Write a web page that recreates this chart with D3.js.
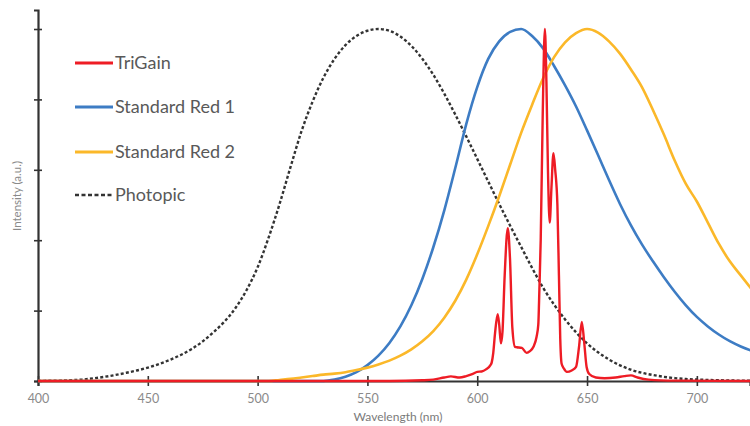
<!DOCTYPE html>
<html><head><meta charset="utf-8">
<script src="https://cdn.jsdelivr.net/npm/d3@7"></script>
<style>
html,body{margin:0;padding:0;background:#fff;overflow:hidden}
svg{display:block}
text{font-family:Lato,"Open Sans",sans-serif}
</style></head>
<body>
<svg id="chart" width="750" height="426"></svg>
<script>
const xTicks = [400, 450, 500, 550, 600, 650, 700];
const yTicks = [0, 0.2, 0.4, 0.6, 0.8, 1.0];
const seriesNames = ["TriGain", "Standard Red 1", "Standard Red 2", "Photopic"];

const photopicWl = [400,405,410,415,420,425,430,435,440,445,450,455,460,465,470,475,480,485,490,495,500,505,510,515,520,525,530,535,540,545,550,555,560,565,570,575,580,585,590,595,600,605,610,615,620,625,630,635,640,645,650,655,660,665,670,675,680,685,690,695,700,705,710,715,720,725];
const photopicVal = [0.0004,0.0006,0.0012,0.0022,0.004,0.0073,0.0116,0.0168,0.023,0.0298,0.038,0.048,0.06,0.0739,0.091,0.1126,0.139,0.1693,0.208,0.2586,0.323,0.4073,0.503,0.6082,0.71,0.7932,0.862,0.9149,0.954,0.9803,0.995,1.0,0.995,0.9786,0.952,0.9154,0.87,0.8163,0.757,0.6949,0.631,0.5668,0.503,0.4412,0.381,0.321,0.265,0.217,0.175,0.1382,0.107,0.0816,0.061,0.0446,0.032,0.0232,0.017,0.0119,0.0082,0.0057,0.0041,0.0029,0.0021,0.0015,0.001,0.0007];

const red1Wl = [400,530,535,540,545,550,555,560,565,570,575,580,585,590,595,600,605,610,615,620,625,630,635,640,645,650,655,660,665,670,675,680,685,690,695,700,705,710,715,720,725];
const red1Val = [0,0,0.004,0.012,0.025,0.045,0.072,0.108,0.155,0.215,0.29,0.38,0.485,0.605,0.73,0.835,0.915,0.965,0.992,1.0,0.98,0.945,0.895,0.84,0.78,0.712,0.642,0.571,0.503,0.442,0.388,0.34,0.295,0.253,0.215,0.182,0.155,0.132,0.113,0.098,0.086];

const red2Wl = [400,505,510,515,520,525,530,535,540,545,550,555,560,565,570,575,580,585,590,595,600,605,610,615,620,625,630,635,640,645,650,655,660,665,670,675,680,685,690,695,700,705,710,715,720,725];
const red2Val = [0,0,0.003,0.006,0.01,0.014,0.018,0.021,0.025,0.031,0.038,0.047,0.058,0.072,0.09,0.113,0.142,0.18,0.228,0.288,0.36,0.44,0.525,0.615,0.705,0.785,0.86,0.92,0.962,0.988,1.0,0.99,0.965,0.93,0.885,0.835,0.77,0.7,0.625,0.56,0.51,0.45,0.39,0.34,0.3,0.26];

const triWl = [400,560,575,580,585,588,592,595,598,600,602,604,606,606.6,607.3,608.1,609.3,610,610.8,611.5,612.5,613.9,614.9,616,617.2,618,620.3,622.5,624,625.6,627,627.8,628.3,628.9,629.8,630.8,631.5,632.2,633,633.8,634.7,635.5,636.5,637.2,637.8,638.4,639.5,640.8,643,645,646.4,647.6,648.7,649.8,651,654,658,663,667,670,673,678,690,725];
const triVal = [0,0,0.002,0.004,0.01,0.013,0.01,0.014,0.02,0.026,0.027,0.033,0.045,0.053,0.08,0.135,0.19,0.16,0.107,0.14,0.3,0.434,0.35,0.15,0.097,0.096,0.094,0.08,0.085,0.097,0.125,0.16,0.26,0.4,0.75,1.0,0.85,0.6,0.45,0.55,0.647,0.6,0.5,0.3,0.12,0.05,0.035,0.026,0.03,0.04,0.1,0.168,0.11,0.04,0.02,0.01,0.008,0.01,0.014,0.016,0.01,0.004,0.001,0];

const colors = {tri:"#ee1c25", red1:"#3d7cc4", red2:"#fbb829", phot:"#333333"};

const svg = d3.select("#chart");
const x = d3.scaleLinear().domain([400, 724.2]).range([38, 750]);
const y = d3.scaleLinear().domain([0, 1.054]).range([381, 10]);

const axisColor = "#333";
// Y axis
const yl = svg.append("g").attr("transform","translate(38,0)")
  .call(d3.axisLeft(y).tickValues(yTicks).tickSize(4).tickFormat(""));
const yr = svg.append("g").attr("transform","translate(38,0)")
  .call(d3.axisRight(y).tickValues(yTicks).tickSize(4).tickFormat(""));
[yl, yr].forEach(g => {
  g.select(".domain").attr("stroke", axisColor).attr("stroke-width", 2.2);
  g.selectAll(".tick line").attr("stroke", axisColor).attr("stroke-width", 1.6);
});
yr.select(".domain").remove();

// X axis
const xb = svg.append("g").attr("transform","translate(0,381)")
  .call(d3.axisBottom(x).tickValues(xTicks).tickSize(5).tickPadding(8).tickFormat(d3.format("d")));
const xt = svg.append("g").attr("transform","translate(0,381)")
  .call(d3.axisTop(x).tickValues(xTicks).tickSize(5).tickFormat(""));
[xb, xt].forEach(g => {
  g.select(".domain").attr("stroke", axisColor).attr("stroke-width", 2.2);
  g.selectAll(".tick line").attr("stroke", axisColor).attr("stroke-width", 1.6);
});
xt.select(".domain").remove();
xb.selectAll(".tick text").attr("fill","#8a8a8a").style("font-size","12.5px").style("font-family","Lato, sans-serif");

// Titles
svg.append("text").attr("x", 398).attr("y", 421).attr("text-anchor","middle")
  .attr("fill","#7a7a7a").style("font-size","12px").text("Wavelength (nm)");
svg.append("text").attr("transform","translate(21,196) rotate(-90)").attr("text-anchor","middle")
  .attr("fill","#8a8a8a").style("font-size","11.5px").text("Intensity (a.u.)");

const line = d3.line().x(d => x(d[0])).y(d => y(d[1])).curve(d3.curveMonotoneX);
const zip = (a, b) => a.map((v, i) => [v, b[i]]);

svg.append("path").datum(zip(photopicWl, photopicVal)).attr("d", line)
  .attr("fill","none").attr("stroke", colors.phot).attr("stroke-width", 2.4).attr("stroke-dasharray","3,2.2");
svg.append("path").datum(zip(red1Wl, red1Val)).attr("d", line)
  .attr("fill","none").attr("stroke", colors.red1).attr("stroke-width", 2.6);
svg.append("path").datum(zip(red2Wl, red2Val)).attr("d", line)
  .attr("fill","none").attr("stroke", colors.red2).attr("stroke-width", 2.6);
svg.append("path").datum(zip(triWl, triVal)).attr("d", line)
  .attr("fill","none").attr("stroke", colors.tri).attr("stroke-width", 2.4).attr("stroke-linejoin","round");

// Legend
const legendY = [63, 107, 152, 195];
const legendColors = [colors.tri, colors.red1, colors.red2, colors.phot];
const lg = svg.append("g");
seriesNames.forEach((name, i) => {
  const ln = lg.append("line").attr("x1", 75).attr("x2", 113).attr("y1", legendY[i]).attr("y2", legendY[i])
    .attr("stroke", legendColors[i]).attr("stroke-width", i === 3 ? 2.4 : 3);
  if (i === 3) ln.attr("stroke-dasharray","4,2.5");
  lg.append("text").attr("x", 115).attr("y", legendY[i]).attr("dy","0.35em")
    .attr("fill","#595959").style("font-size","18px").text(name);
});
</script>
</body></html>
